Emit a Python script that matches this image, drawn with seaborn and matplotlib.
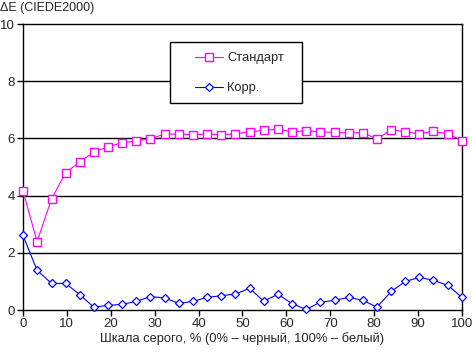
import matplotlib
matplotlib.use('Agg')
import matplotlib.pyplot as plt
from matplotlib.patches import Rectangle
import pandas as pd
import seaborn as sns

# gray level steps, %
gray = [0, 3.2, 6.5, 9.7, 12.9, 16.1, 19.4, 22.6, 25.8, 29.0, 32.3, 35.5,
        38.7, 41.9, 45.2, 48.4, 51.6, 54.8, 58.1, 61.3, 64.5, 67.7, 71.0,
        74.2, 77.4, 80.6, 83.9, 87.1, 90.3, 93.5, 96.8, 100]

standard = [4.17, 2.39, 3.88, 4.80, 5.17, 5.52, 5.71, 5.85, 5.91, 5.99, 6.15, 6.15,
            6.13, 6.15, 6.13, 6.16, 6.23, 6.28, 6.32, 6.23, 6.27, 6.23, 6.21,
            6.19, 6.20, 5.98, 6.30, 6.23, 6.16, 6.25, 6.16, 5.92]

corr = [2.61, 1.39, 0.93, 0.93, 0.54, 0.10, 0.16, 0.20, 0.30, 0.47, 0.42, 0.23,
        0.30, 0.44, 0.50, 0.56, 0.76, 0.31, 0.55, 0.22, 0.02, 0.27, 0.34,
        0.44, 0.34, 0.10, 0.65, 1.00, 1.14, 1.04, 0.86, 0.44]

labels = ['Стандарт', 'Корр.']

df = pd.DataFrame({'gray': gray, labels[0]: standard, labels[1]: corr})

sns.set_style('white')
plt.rcParams['font.family'] = ['Liberation Sans', 'DejaVu Sans']

fig = plt.figure(figsize=(4.72, 3.53), dpi=100)
ax = fig.add_axes([0.0487, 0.1218, 0.9301, 0.8102])

sns.lineplot(data=df, x='gray', y=labels[0], ax=ax, color='#FF00FF', lw=0.8,
             marker='s', markersize=5.1, markerfacecolor='white',
             markeredgecolor='#FF00FF', markeredgewidth=1, label=labels[0],
             clip_on=False, zorder=3)
sns.lineplot(data=df, x='gray', y=labels[1], ax=ax, color='#0000FF', lw=0.8,
             marker='D', markersize=4.3, markerfacecolor='white',
             markeredgecolor='#0000FF', markeredgewidth=0.9, label=labels[1],
             clip_on=False, zorder=3)

ax.set_xlim(0, 100)
ax.set_ylim(0, 10)
ax.set_xticks(range(0, 101, 10))
ax.set_yticks(range(0, 11, 2))
for y in [2, 4, 6, 8]:
    ax.axhline(y, color='black', lw=1, zorder=0)
for s in ax.spines.values():
    s.set_color('black')
    s.set_linewidth(1)
ax.tick_params(axis='both', direction='out', length=4, width=1, color='black',
               labelsize=9.5, pad=2, bottom=True, left=True)
ax.set_xlabel('Шкала серого, % (0% – черный, 100% – белый)', fontsize=9.3, labelpad=1)
ax.set_ylabel('')
fig.text(0.0, 0.995, 'ΔE (CIEDE2000)', fontsize=9, ha='left', va='top')

# legend box
ax.add_patch(Rectangle((0.335, 0.724), 0.301, 0.212, transform=ax.transAxes,
                       facecolor='white', edgecolor='black', lw=1, zorder=4))
leg = ax.legend(loc='center left', bbox_to_anchor=(0.392, 0.828), fontsize=9.3,
                frameon=False, borderpad=0, labelspacing=1.4, handlelength=2.15,
                handletextpad=0.35, borderaxespad=0)
leg.set_zorder(5)

fig.savefig('out.png', dpi=100)
